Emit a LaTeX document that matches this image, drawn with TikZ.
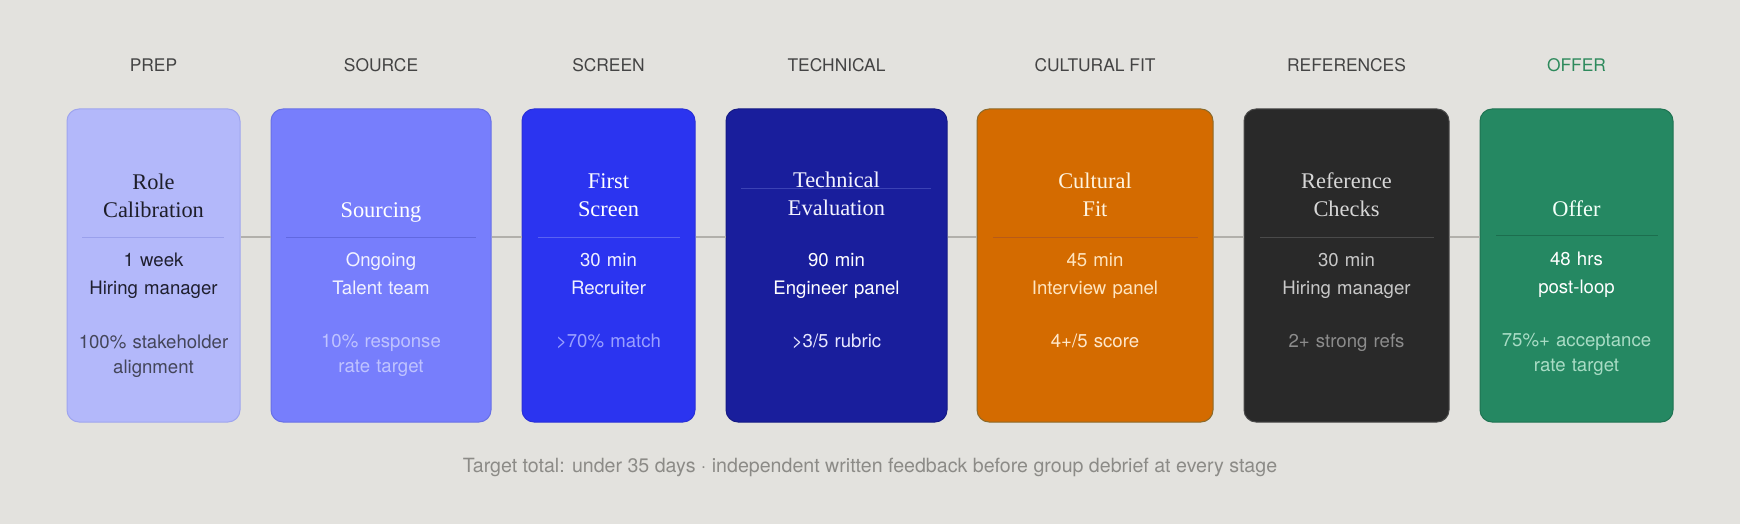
\documentclass[tikz,border=0pt]{standalone}
\usepackage{xcolor}
\usepackage{fontspec}
\setmainfont{TeX Gyre Heros}
\newfontfamily\titlefont{Liberation Serif}

\begin{document}
\begin{tikzpicture}[x = 0.5pt, y = -0.5pt,
						card/.style = {draw, line width = 0.5pt, rounded corners = 6pt, minimum height = 156.5pt, inner sep = 0pt},
						stage/.style = {anchor = base, inner sep = 0pt, font = \fontsize{8.7}{10}\selectfont, text = labelgray},
						cardtitle/.style = {anchor = base, text width = 110pt, align = center, inner sep = 0pt, font = \titlefont\fontsize{11.2}{14}\selectfont},
						cardbody/.style = {anchor = base, text width = 110pt, align = center, inner sep = 0pt, font = \fontsize{9.3}{14}\selectfont},
						metric/.style = {anchor = base, text width = 110pt, align = center, inner sep = 0pt, font = \fontsize{9.3}{12.5}\selectfont},
						rule/.style = {line width = 0.5pt},
						link/.style = {draw = linkgray, line width = 1pt},
						]
	
		\definecolor{paper}{HTML}{E3E2DE}
		\definecolor{labelgray}{HTML}{444444}
		\definecolor{linkgray}{HTML}{B2B0AB}
		\definecolor{footgray}{HTML}{8C8B87}
		
		% Card colours: fill, border, divider, title, body, target
		\definecolor{prepFill}{HTML}{B3B8FA}
		\definecolor{prepLine}{HTML}{9FA5EE}
		\definecolor{prepRule}{HTML}{9AA0EC}
		\definecolor{prepTitleText}{HTML}{1E1E2A}
		\definecolor{prepText}{HTML}{1F1F2F}
		\definecolor{prepFaint}{HTML}{44465A}
		
		\definecolor{sourceFill}{HTML}{777EFC}
		\definecolor{sourceLine}{HTML}{6870E6}
		\definecolor{sourceRule}{HTML}{6168E0}
		\definecolor{sourceText}{HTML}{F2F2FF}
		\definecolor{sourceFaint}{HTML}{BFC3FF}
		
		\definecolor{screenFill}{HTML}{2B34F0}
		\definecolor{screenLine}{HTML}{2A30D8}
		\definecolor{screenRule}{HTML}{5A62F2}
		\definecolor{screenText}{HTML}{F0F0FF}
		\definecolor{screenFaint}{HTML}{9AA0FF}
		
		\definecolor{technicalFill}{HTML}{191E9C}
		\definecolor{technicalLine}{HTML}{151A85}
		\definecolor{technicalRule}{HTML}{3B42B5}
		\definecolor{technicalTitleText}{HTML}{F4F4FF}
		\definecolor{technicalFaint}{HTML}{E8E8FF}
		
		\definecolor{culturalFill}{HTML}{D46B00}
		\definecolor{culturalLine}{HTML}{8C6A2A}
		\definecolor{culturalRule}{HTML}{B85A18}
		\definecolor{culturalTitleText}{HTML}{FFF4E0}
		\definecolor{culturalText}{HTML}{FFE5C0}
		\definecolor{culturalFaint}{HTML}{FFE8CC}
		
		\definecolor{referencesFill}{HTML}{292929}
		\definecolor{referencesLine}{HTML}{4A4A4A}
		\definecolor{referencesRule}{HTML}{4A4A4A}
		\definecolor{referencesTitleText}{HTML}{D6D6D6}
		\definecolor{referencesText}{HTML}{C8C8C8}
		\definecolor{referencesFaint}{HTML}{8C8C8C}
		
		\definecolor{offerFill}{HTML}{258862}
		\definecolor{offerLine}{HTML}{1F7352}
		\definecolor{offerRule}{HTML}{1C6E4E}
		\definecolor{offerTitleText}{HTML}{F2FFF8}
		\definecolor{offerFaint}{HTML}{A9DCC5}
		\definecolor{offerLabelText}{HTML}{2E8A5C}
		
		% Background and page size
		\fill[paper] (0, 0) rectangle (1740, 524);
		\useasboundingbox (0, 0) rectangle (1740, 524);
		
		% Level of the connectors
		\coordinate (ruleLevel) at (0, 237);
		
		% Cards
		\node[card, minimum width = 86.5pt, fill = prepFill, draw = prepLine] (prep) at (153.5, 265.5) {};
		\node[card, minimum width = 110pt, fill = sourceFill, draw = sourceLine] (source) at (381, 265.5) {};
		\node[card, minimum width = 86.5pt, fill = screenFill, draw = screenLine] (screen) at (608.5, 265.5) {};
		\node[card, minimum width = 110.5pt, fill = technicalFill, draw = technicalLine] (technical) at (836.5, 265.5) {};
		\node[card, minimum width = 118pt, fill = culturalFill, draw = culturalLine] (cultural) at (1095, 265.5) {};
		\node[card, minimum width = 102.5pt, fill = referencesFill, draw = referencesLine] (references) at (1346.5, 265.5) {};
		\node[card, minimum width = 96.5pt, fill = offerFill, draw = offerLine] (offer) at (1576.5, 265.5) {};
		
		% Connectors between cards
		\draw[link] (prep.east |- ruleLevel) -- (source.west |- ruleLevel);
		\draw[link] (source.east |- ruleLevel) -- (screen.west |- ruleLevel);
		\draw[link] (screen.east |- ruleLevel) -- (technical.west |- ruleLevel);
		\draw[link] (technical.east |- ruleLevel) -- (cultural.west |- ruleLevel);
		\draw[link] (cultural.east |- ruleLevel) -- (references.west |- ruleLevel);
		\draw[link] (references.east |- ruleLevel) -- (offer.west |- ruleLevel);
		
		% Stage labels
		\node[stage] (prepLabel) at (153.5, 72) {PREP};
		\node[stage] (sourceLabel) at (381, 72) {SOURCE};
		\node[stage] (screenLabel) at (608.5, 72) {SCREEN};
		\node[stage] (technicalLabel) at (836.5, 72) {TECHNICAL};
		\node[stage] (culturalLabel) at (1095, 72) {CULTURAL FIT};
		\node[stage] (referencesLabel) at (1346.5, 72) {REFERENCES};
		\node[stage, text = offerLabelText] (offerLabel) at (1576.5, 72) {OFFER};
		
		% Dividers
		\draw[rule, prepRule] (82, 237) -- (224, 237);
		\draw[rule, sourceRule] (286, 237) -- (476, 237);
		\draw[rule, screenRule] (538, 237) -- (680, 237);
		\draw[rule, technicalRule] (741, 188) -- (931, 188);
		\draw[rule, culturalRule] (993, 237) -- (1198, 237);
		\draw[rule, referencesRule] (1260, 237) -- (1434, 237);
		\draw[rule, offerRule] (1496, 235) -- (1658, 235);
		
		% Card titles
		\node[cardtitle, text = prepTitleText] (prepTitle) at (153.5, 189) {Role\\Calibration};
		\node[cardtitle, text = white] (sourceTitle) at (381, 217) {Sourcing};
		\node[cardtitle, text = white] (screenTitle) at (608.5, 188) {First\\Screen};
		\node[cardtitle, text = technicalTitleText] (technicalTitle) at (836.5, 187) {Technical\\Evaluation};
		\node[cardtitle, text = culturalTitleText] (culturalTitle) at (1095, 188) {Cultural\\Fit};
		\node[cardtitle, text = referencesTitleText] (referencesTitle) at (1346.5, 188) {Reference\\Checks};
		\node[cardtitle, text = offerTitleText] (offerTitle) at (1576.5, 216) {Offer};
		
		% Duration and owner
		\node[cardbody, text = prepText] (prepBody) at (153.5, 266.5) {1 week\\Hiring manager};
		\node[cardbody, text = sourceText] (sourceBody) at (381, 266.5) {Ongoing\\Talent team};
		\node[cardbody, text = screenText] (screenBody) at (608.5, 266) {30 min\\Recruiter};
		\node[cardbody, text = white] (technicalBody) at (836.5, 266) {90 min\\Engineer panel};
		\node[cardbody, text = culturalText] (culturalBody) at (1095, 266) {45 min\\Interview panel};
		\node[cardbody, text = referencesText] (referencesBody) at (1346.5, 266) {30 min\\Hiring manager};
		\node[cardbody, text = white] (offerBody) at (1576.5, 265) {48 hrs\\post-loop};
		
		% Targets
		\node[metric, text = prepFaint] (prepMetric) at (153.5, 348) {100\% stakeholder\\alignment};
		\node[metric, text = sourceFaint] (sourceMetric) at (381, 347.5) {10\% response\\rate target};
		\node[metric, text = screenFaint] (screenMetric) at (608.5, 347) {>70\% match};
		\node[metric, text = technicalFaint] (technicalMetric) at (836.5, 347) {>3/5 rubric};
		\node[metric, text = culturalFaint] (culturalMetric) at (1095, 347) {4+/5 score};
		\node[metric, text = referencesFaint] (referencesMetric) at (1346.5, 347) {2+ strong refs};
		\node[metric, text = offerFaint] (offerMetric) at (1576.5, 346.5) {75\%+ acceptance\\rate target};
		
		% Footer
		\node[anchor = base, inner sep = 0pt, text = footgray, font = \fontsize{9.8}{12}\selectfont] (footer) at (870, 472) {Target total: under 35 days · independent written feedback before group debrief at every stage};
		
	\end{tikzpicture}
\end{document}
